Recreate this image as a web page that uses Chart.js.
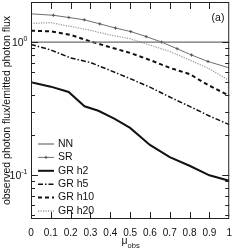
<!DOCTYPE html>
<html>
<head>
<meta charset="utf-8">
<script src="https://cdn.jsdelivr.net/npm/chart.js@4/dist/chart.umd.min.js"></script>
<style>
  html, body { margin: 0; padding: 0; background: #fff; }
</style>
</head>
<body>
<canvas id="c" width="240" height="251"></canvas>
<script>
// valores (eixo x = mu_obs, eixo y em escala log)
const MU     = [0, 0.1, 0.2, 0.3, 0.4, 0.5, 0.6, 0.7, 0.8, 0.9, 1];
const NN_MU  = [0, 1];
const NN     = [1, 1];
const SR_MU  = [0, 0.113, 0.191, 0.269, 0.347, 0.426, 0.503, 0.581, 0.659, 0.737, 0.81, 0.893, 1];
const SR     = [1.63, 1.59, 1.53, 1.47, 1.37, 1.275, 1.2, 1.1, 1.0, 0.892, 0.8, 0.715, 0.64];
const H2_MU  = [0, 0.1, 0.19, 0.27, 0.34, 0.42, 0.5, 0.6, 0.7, 0.8, 0.9, 1];
const GR_H2  = [0.499, 0.463, 0.422, 0.33, 0.305, 0.266, 0.227, 0.169, 0.137, 0.118, 0.1, 0.091];
const GR_H5  = [0.961, 0.873, 0.76, 0.703, 0.612, 0.532, 0.459, 0.387, 0.329, 0.279, 0.24];
const GR_H10 = [1.219, 1.204, 1.133, 1.012, 0.915, 0.83, 0.734, 0.641, 0.575, 0.471, 0.396];
const GR_H20 = [1.38, 1.40, 1.31, 1.225, 1.13, 1.06, 0.95, 0.85, 0.735, 0.63, 0.515];

const X_TICKS = [0, 0.1, 0.2, 0.3, 0.4, 0.5, 0.6, 0.7, 0.8, 0.9, 1];
const Y_MAJOR = [0.1, 1];
const Y_MINOR = [0.05, 0.06, 0.07, 0.08, 0.09, 0.2, 0.3, 0.4, 0.5, 0.6, 0.7, 0.8, 0.9];
const Y_LABELS = [{ v: 1, exp: '0' }, { v: 0.1, exp: '-1' }];

const NARROW = "'Liberation Sans Narrow', 'Liberation Sans', Arial, sans-serif";
const pts = (xs, ys) => xs.map((x, i) => ({ x, y: ys[i] }));

const srRadius = SR_MU.map((_, i) => (i === 0 || i === SR_MU.length - 1) ? 0 : 1.6);

const datasets = [
  { label: 'NN', data: pts(NN_MU, NN), borderColor: '#6e6e6e', borderWidth: 1.2, pointRadius: 0 },
  { label: 'SR', data: pts(SR_MU, SR), borderColor: '#6e6e6e', borderWidth: 1, pointStyle: 'cross',
    pointRadius: srRadius, pointBorderColor: '#555', pointBorderWidth: 1 },
  { label: 'GR h2',  data: pts(H2_MU, GR_H2), borderColor: '#111', borderWidth: 2, pointRadius: 0 },
  { label: 'GR h5',  data: pts(MU, GR_H5),  borderColor: '#111', borderWidth: 1.5, borderDash: [5, 2, 1.5, 2], pointRadius: 0 },
  { label: 'GR h10', data: pts(MU, GR_H10), borderColor: '#111', borderWidth: 2, borderDash: [4, 3], pointRadius: 0 },
  { label: 'GR h20', data: pts(MU, GR_H20), borderColor: '#9a9a9a', borderWidth: 1.3, borderDash: [1.2, 1.3], pointRadius: 0 }
];

// molduras, ticks internos, rótulos 10^n, legenda, (a) e título mu_obs
const decor = {
  id: 'decor',
  afterDraw(chart) {
    const { ctx, chartArea: a, scales: { x, y } } = chart;
    ctx.save();
    ctx.strokeStyle = '#222';
    ctx.lineWidth = 1;
    ctx.strokeRect(a.left + 0.5, a.top + 0.5, a.right - a.left - 1, a.bottom - a.top - 1);

    ctx.beginPath();
    X_TICKS.forEach(v => {
      if (v <= 0 || v >= 1) return;
      const px = Math.round(x.getPixelForValue(v)) + 0.5;
      ctx.moveTo(px, a.bottom); ctx.lineTo(px, a.bottom - 7);
      ctx.moveTo(px, a.top);    ctx.lineTo(px, a.top + 7);
    });
    const yTick = (v, len) => {
      const py = Math.round(y.getPixelForValue(v)) + 0.5;
      ctx.moveTo(a.left, py);  ctx.lineTo(a.left + len, py);
      ctx.moveTo(a.right, py); ctx.lineTo(a.right - len, py);
    };
    Y_MAJOR.forEach(v => yTick(v, 7));
    Y_MINOR.forEach(v => yTick(v, 4));
    ctx.stroke();

    // rótulos do eixo y com expoente
    ctx.fillStyle = '#111';
    ctx.textBaseline = 'alphabetic';
    Y_LABELS.forEach(l => {
      const py = y.getPixelForValue(l.v);
      ctx.textAlign = 'right';
      const xr = 27.5;
      ctx.font = `7px ${NARROW}`;
      const ew = ctx.measureText(l.exp).width;
      ctx.fillText(l.exp, xr, py - 1);
      ctx.font = `10.5px ${NARROW}`;
      ctx.fillText('10', xr - ew, py + 4);
    });

    // legenda dentro do gráfico
    const lx0 = 38, lx1 = 54, tx = 58, ly0 = 144, dy = 13.4;
    chart.data.datasets.forEach((ds, i) => {
      const ly = ly0 + i * dy;
      ctx.save();
      ctx.strokeStyle = ds.borderColor;
      ctx.lineWidth = ds.borderWidth;
      ctx.setLineDash(ds.borderDash || []);
      ctx.beginPath(); ctx.moveTo(lx0, ly); ctx.lineTo(lx1, ly); ctx.stroke();
      if (ds.pointStyle === 'cross') {
        ctx.setLineDash([]);
        ctx.strokeStyle = '#555'; ctx.lineWidth = 1;
        const cx = (lx0 + lx1) / 2;
        ctx.beginPath(); ctx.moveTo(cx, ly - 1.6); ctx.lineTo(cx, ly + 1.6);
        ctx.moveTo(cx - 1.6, ly); ctx.lineTo(cx + 1.6, ly); ctx.stroke();
      }
      ctx.restore();
      ctx.font = `10.5px ${NARROW}`;
      ctx.textAlign = 'left';
      ctx.textBaseline = 'middle';
      ctx.fillStyle = '#111';
      ctx.fillText(ds.label, tx, ly);
    });

    ctx.textAlign = 'center';
    ctx.fillText('(a)', 218, 18);

    // título do eixo x: mu com subscrito "obs"
    ctx.textBaseline = 'alphabetic';
    ctx.textAlign = 'left';
    ctx.font = `10.5px ${NARROW}`;
    const mw = ctx.measureText('μ').width;
    ctx.font = `7.5px ${NARROW}`;
    const ow = ctx.measureText('obs').width;
    const startX = (a.left + a.right) / 2 - (mw + ow) / 2 + 0.5;
    ctx.font = `10.5px ${NARROW}`;
    ctx.fillText('μ', startX, 244);
    ctx.font = `7.5px ${NARROW}`;
    ctx.fillText('obs', startX + mw, 248);
    ctx.restore();
  }
};

new Chart(document.getElementById('c').getContext('2d'), {
  type: 'line',
  data: { datasets },
  plugins: [decor],
  options: {
    responsive: false,
    animation: false,
    devicePixelRatio: 1,
    layout: { padding: { top: 2, right: 4, left: 0, bottom: 0 } },
    plugins: { legend: { display: false }, tooltip: { enabled: false } },
    elements: { line: { tension: 0, fill: false } },
    scales: {
      x: {
        type: 'linear', min: 0, max: 1,
        grid: { display: false, drawTicks: false },
        border: { display: false },
        ticks: {
          stepSize: 0.1, padding: 8, color: '#111',
          autoSkip: false, maxRotation: 0, minRotation: 0,
          font: { family: NARROW, size: 10 },
          callback: v => (v === 0 ? '0' : v === 1 ? '1' : v.toFixed(1))
        },
        afterFit: s => { s.height = 32; }
      },
      y: {
        type: 'logarithmic', min: 0.047, max: 2,
        grid: { display: false, drawTicks: false },
        border: { display: false },
        ticks: { display: false },
        title: {
          display: true, text: 'observed photon flux/emitted photon flux',
          color: '#111', font: { family: "'Liberation Sans', Arial, sans-serif", size: 10.5 },
          padding: { top: 1, bottom: 0 }
        },
        afterFit: s => { s.width = 31; }
      }
    }
  }
});
</script>
</body>
</html>
